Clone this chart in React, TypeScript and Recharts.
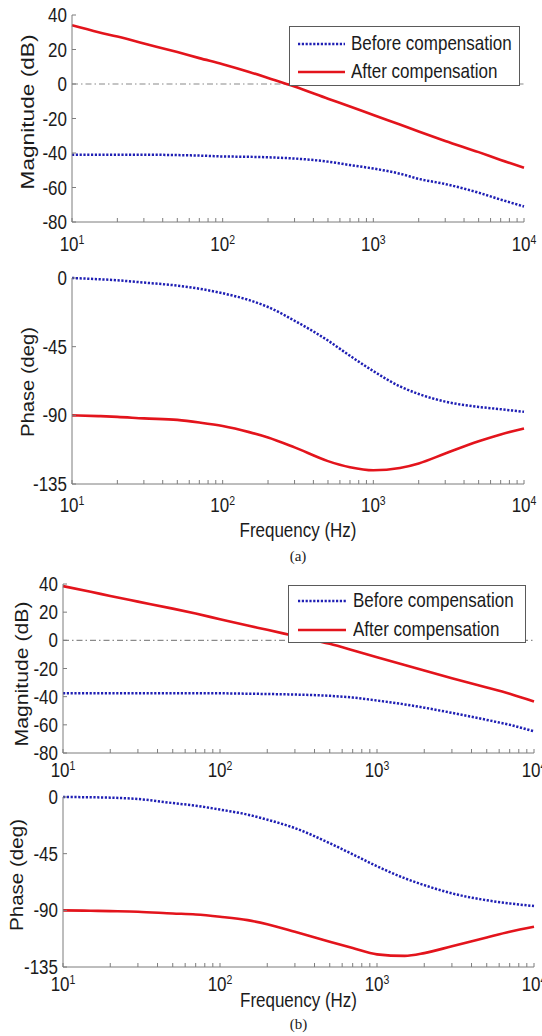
import React from "react";
import { LineChart, Line, XAxis, YAxis, ReferenceLine, Legend } from "recharts";

// frequency points (Hz)
const freq = [10, 15, 20, 30, 50, 70, 100, 150, 200, 300, 500, 700, 1000, 1500, 2000, 3000, 5000, 7000, 10000];

// (a) magnitude, dB
const magBeforeA = [-41, -41, -41, -41, -41.2, -41.5, -42, -42.2, -42.5, -43.2, -45, -47, -49, -52, -55, -58, -63, -67, -71];
const magAfterA = [34, 30, 27.5, 23.5, 18.5, 15, 11.5, 7, 3.5, -1.5, -8.5, -13, -18, -23.5, -27.5, -33, -39.5, -44, -48.5];
// (a) phase, deg
const phaseBeforeA = [0, -0.8, -1.5, -3, -5, -7, -10, -14.5, -19, -28, -41, -51, -61, -71, -76, -81, -84.5, -86, -87.7];
const phaseAfterA = [-90, -90.5, -91, -92, -93, -94.7, -97, -101, -104.5, -111, -120, -124, -126, -124.5, -121.5, -115, -107, -102.5, -98.6];
// (b) magnitude, dB
const magBeforeB = [-37.5, -37.5, -37.5, -37.5, -37.5, -37.5, -37.6, -37.9, -38.1, -38.5, -39.4, -40.6, -42.7, -45.5, -47.8, -51.5, -56.5, -60, -64.6];
const magAfterB = [38.5, 34.5, 31.5, 27.5, 22.5, 19, 15, 10.5, 7.5, 3, -2.5, -7, -12, -17.5, -21.5, -27, -33.5, -38, -43.5];
// (b) phase, deg
const phaseBeforeB = [0, -0.2, -0.5, -1.6, -4.8, -6.9, -10, -14, -18, -24.7, -36.7, -45.5, -55, -64.5, -70, -76.5, -82, -84.5, -86.6];
const phaseAfterB = [-90, -90.3, -90.6, -91.1, -92.5, -93.3, -95.1, -97.8, -101, -107, -115, -120, -125, -126.2, -124, -118.5, -111.5, -107, -103];

const xTicks = [
  10, 20, 30, 40, 50, 60, 70, 80, 90,
  100, 200, 300, 400, 500, 600, 700, 800, 900,
  1000, 2000, 3000, 4000, 5000, 6000, 7000, 8000, 9000,
  10000,
];
const magTicks = [-80, -60, -40, -20, 0, 20, 40];
const phaseTicks = [-135, -90, -45, 0];

const series = [
  { key: "before", name: "Before compensation", color: "#1f1fb4", dash: "2.2 1.6", width: 2.5 },
  { key: "after", name: "After compensation", color: "#e3141c", dash: undefined, width: 2.6 },
];

const W = 542;
const FONT = '"Liberation Sans", Arial, Helvetica, sans-serif';
const AXIS = "#7d7d7d";
const TEXT = "#1b1b1b";
const SY = 1.15; // the figure is slightly stretched vertically
const TICK = 4;

function rows(before: number[], after: number[]) {
  return freq.map((f, i) => ({ f, before: before[i], after: after[i] }));
}

function BottomTick(props: any) {
  const { x, y, payload, gap } = props;
  const v = payload.value;
  const exp = Math.round(Math.log10(v));
  const decade = Math.abs(v - Math.pow(10, exp)) < 1e-6;
  return (
    <g>
      <line x1={x} x2={x} y1={y} y2={y - TICK} stroke={AXIS} />
      {decade && (
        <g transform={`translate(${x},${y + gap}) scale(1,${SY})`}>
          <text x={0} y={0} textAnchor="middle" fontFamily={FONT} fontSize={17} fill={TEXT}>
            10
            <tspan dy={-6.5} fontSize={10.5}>{exp}</tspan>
          </text>
        </g>
      )}
    </g>
  );
}

function TopTick(props: any) {
  const { x, y } = props;
  return <line x1={x} x2={x} y1={y} y2={y + TICK} stroke={AXIS} />;
}

function LeftTick(props: any) {
  const { x, y, payload } = props;
  return (
    <g>
      <line x1={x} x2={x + TICK} y1={y} y2={y} stroke={AXIS} />
      <g transform={`translate(${x - 5},${y}) scale(1,${SY})`}>
        <text x={0} y={0} dy="0.36em" textAnchor="end" fontFamily={FONT} fontSize={17} fill={TEXT}>
          {payload.value}
        </text>
      </g>
    </g>
  );
}

function RightTick(props: any) {
  const { x, y } = props;
  return <line x1={x} x2={x - TICK} y1={y} y2={y} stroke={AXIS} />;
}

function LegendBox(props: any) {
  const { box } = props;
  return (
    <div
      style={{
        width: box.width,
        height: box.height,
        boxSizing: "border-box",
        border: "1px solid #5a5a5a",
        background: "#fff",
        paddingTop: box.padTop,
      }}
    >
      {series.map((s) => (
        <div key={s.key} style={{ height: box.rowH, display: "flex", alignItems: "center" }}>
          <svg width={box.textX} height={10} style={{ flex: "none" }}>
            <line
              x1={box.lineX0}
              x2={box.lineX1}
              y1={5}
              y2={5}
              stroke={s.color}
              strokeWidth={s.width}
              strokeDasharray={s.dash}
            />
          </svg>
          <span
            style={{
              fontFamily: FONT,
              fontSize: 17,
              color: TEXT,
              display: "inline-block",
              transform: `scaleY(${SY})`,
              whiteSpace: "nowrap",
            }}
          >
            {s.name}
          </span>
        </div>
      ))}
    </div>
  );
}

type Panel = {
  top: number;
  height: number;
  plotTop: number;
  plotBottom: number;
  left: number;
  right: number;
  data: { f: number; before: number; after: number }[];
  yDomain: [number, number];
  yTicks: number[];
  tickGap: number;
  title: string;
  titleX: number;
  titleY: number;
  titleLen: number;
  zero?: boolean;
  legend?: any;
  caption?: { text: string; sub: string; gap: number; subGap: number };
};

function BodePanel(p: Panel) {
  const bottomH = p.height - p.plotBottom;
  const yTitle = (
    <g transform={`translate(${p.titleX},${p.titleY}) rotate(-90)`}>
      <text
        x={0}
        y={0}
        textAnchor="middle"
        dominantBaseline="central"
        fontFamily={FONT}
        fontSize={18}
        fill={TEXT}
        textLength={p.titleLen}
        lengthAdjust="spacingAndGlyphs"
      >
        {p.title}
      </text>
    </g>
  );
  const caption = (props: any) => {
    if (!p.caption) return null;
    const vb = props.viewBox || {};
    const cx = (vb.x ?? p.left) + (vb.width ?? p.right - p.left) / 2;
    const y0 = vb.y ?? p.plotBottom;
    return (
      <g>
        <g transform={`translate(${cx},${y0 + p.caption.gap}) scale(1,${SY})`}>
          <text x={0} y={0} textAnchor="middle" fontFamily={FONT} fontSize={17} fill={TEXT}>
            {p.caption.text}
          </text>
        </g>
        <text
          x={cx}
          y={y0 + p.caption.subGap}
          textAnchor="middle"
          fontFamily='"Liberation Serif", "Times New Roman", serif'
          fontSize={15}
          fill={TEXT}
        >
          {p.caption.sub}
        </text>
      </g>
    );
  };

  return (
    <div style={{ position: "absolute", left: 0, top: p.top, width: W, height: p.height }}>
      <LineChart
        width={W}
        height={p.height}
        data={p.data}
        margin={{ top: p.plotTop, right: W - p.right, bottom: 0, left: 0 }}
      >
        <XAxis
          xAxisId="b"
          dataKey="f"
          type="number"
          scale="log"
          domain={[10, 10000]}
          ticks={xTicks}
          interval={0}
          height={bottomH}
          tickSize={0}
          tickMargin={0}
          tickLine={false}
          axisLine={{ stroke: AXIS }}
          tick={<BottomTick gap={p.tickGap} />}
          label={p.caption ? caption : undefined}
        />
        <XAxis
          xAxisId="t"
          orientation="top"
          dataKey="f"
          type="number"
          scale="log"
          domain={[10, 10000]}
          ticks={xTicks}
          interval={0}
          height={0}
          tickSize={0}
          tickMargin={0}
          tickLine={false}
          axisLine={{ stroke: AXIS }}
          tick={<TopTick />}
        />
        <YAxis
          yAxisId="l"
          type="number"
          domain={p.yDomain}
          ticks={p.yTicks}
          interval={0}
          width={p.left}
          tickSize={0}
          tickMargin={0}
          tickLine={false}
          axisLine={{ stroke: AXIS }}
          tick={<LeftTick />}
          label={() => yTitle}
        />
        <YAxis
          yAxisId="r"
          orientation="right"
          type="number"
          domain={p.yDomain}
          ticks={p.yTicks}
          interval={0}
          width={0}
          tickSize={0}
          tickMargin={0}
          tickLine={false}
          axisLine={{ stroke: AXIS }}
          tick={<RightTick />}
        />
        {p.zero && (
          <ReferenceLine
            xAxisId="b"
            yAxisId="l"
            y={0}
            stroke="#8a8a8a"
            strokeWidth={1.2}
            strokeDasharray="6 3 1.5 3"
          />
        )}
        {series.map((s) => (
          <Line
            key={s.key}
            xAxisId="b"
            yAxisId="l"
            dataKey={s.key}
            name={s.name}
            type="monotone"
            stroke={s.color}
            strokeWidth={s.width}
            strokeDasharray={s.dash}
            dot={false}
            activeDot={false}
            isAnimationActive={false}
          />
        ))}
        {p.legend && (
          <Legend
            layout="horizontal"
            verticalAlign="middle"
            align="center"
            content={<LegendBox box={p.legend} />}
            wrapperStyle={{ left: p.legend.left, top: p.legend.top, width: p.legend.width, height: p.legend.height }}
          />
        )}
      </LineChart>
    </div>
  );
}

export default function App() {
  return (
    <div style={{ position: "absolute", left: 0, top: 0, width: W, height: 1036, background: "#fff", overflow: "hidden" }}>
      <BodePanel
        top={0}
        height={270}
        plotTop={15}
        plotBottom={222}
        left={72}
        right={524}
        data={rows(magBeforeA, magAfterA)}
        yDomain={[-80, 40]}
        yTicks={magTicks}
        tickGap={29}
        title="Magnitude (dB)"
        titleX={27.5}
        titleY={112}
        titleLen={155}
        zero
        legend={{ left: 289, top: 26, width: 231, height: 60, padTop: 3, rowH: 28, lineX0: 8, lineX1: 55, textX: 61 }}
      />
      <BodePanel
        top={262}
        height={308}
        plotTop={16}
        plotBottom={222}
        left={72}
        right={524}
        data={rows(phaseBeforeA, phaseAfterA)}
        yDomain={[-135, 0]}
        yTicks={phaseTicks}
        tickGap={28}
        title="Phase (deg)"
        titleX={27.5}
        titleY={120}
        titleLen={110}
        caption={{ text: "Frequency (Hz)", sub: "(a)", gap: 53, subGap: 77 }}
      />
      <BodePanel
        top={570}
        height={230}
        plotTop={14}
        plotBottom={183}
        left={63}
        right={534}
        data={rows(magBeforeB, magAfterB)}
        yDomain={[-80, 40]}
        yTicks={magTicks}
        tickGap={24}
        title="Magnitude (dB)"
        titleX={21.5}
        titleY={104}
        titleLen={145}
        zero
        legend={{ left: 288, top: 15, width: 238, height: 58, padTop: 0, rowH: 29, lineX0: 9, lineX1: 57, textX: 64 }}
      />
      <BodePanel
        top={775}
        height={261}
        plotTop={22}
        plotBottom={192}
        left={63}
        right={534}
        data={rows(phaseBeforeB, phaseAfterB)}
        yDomain={[-135, 0]}
        yTicks={phaseTicks}
        tickGap={24}
        title="Phase (deg)"
        titleX={16.5}
        titleY={100}
        titleLen={112}
        caption={{ text: "Frequency (Hz)", sub: "(b)", gap: 39.5, subGap: 62 }}
      />
    </div>
  );
}
